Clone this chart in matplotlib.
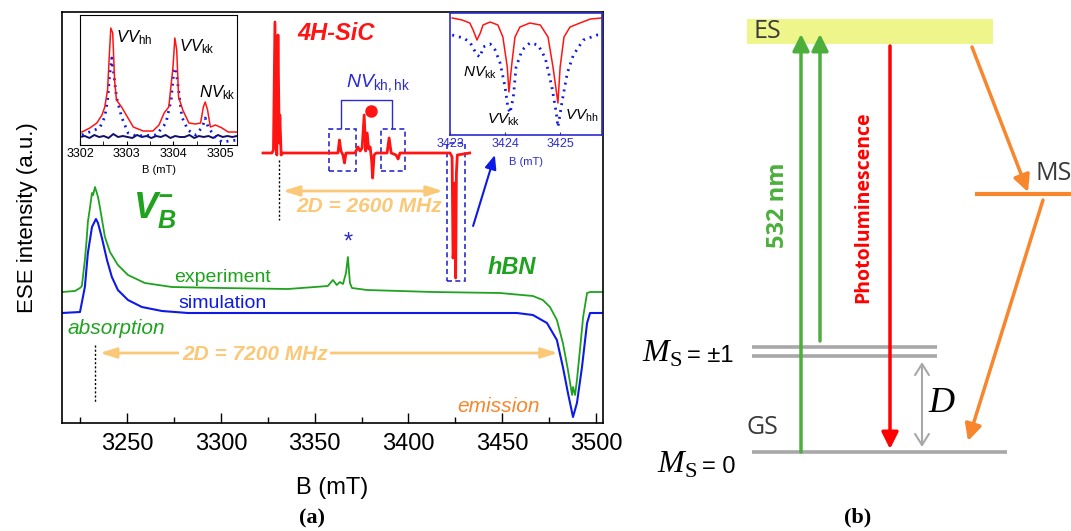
import numpy as np
import matplotlib.pyplot as plt
from matplotlib.ticker import MultipleLocator
from matplotlib.patches import Rectangle

plt.rcParams['font.family'] = ['Liberation Sans', 'DejaVu Sans']
plt.rcParams['mathtext.fontset'] = 'custom'
plt.rcParams['mathtext.rm'] = 'Liberation Sans'
plt.rcParams['mathtext.it'] = 'Liberation Sans:italic'
plt.rcParams['mathtext.bf'] = 'Liberation Sans:italic:bold'
plt.rcParams['mathtext.cal'] = 'Liberation Serif:italic'
plt.rcParams['mathtext.tt'] = 'Liberation Serif'

# -----------------------------------------------------------------
# data (B in mT, intensity in arbitrary units)
# -----------------------------------------------------------------

# hBN, experiment
b_exp = [3215.2, 3222.1, 3224.8, 3225.8, 3227.4, 3228.2, 3229.0, 3230.1, 3231.2,
         3231.8, 3232.8, 3233.8, 3234.4, 3235.4, 3238.1, 3240.8, 3245.0, 3250.4,
         3259.4, 3273.8, 3300.5, 3335.7, 3350.1, 3357.0, 3359.7, 3361.8, 3363.4,
         3365.1, 3366.7, 3367.7, 3368.8, 3369.9, 3377.9, 3413.1, 3448.8, 3466.4,
         3471.7, 3475.5, 3479.2, 3482.4, 3485.1, 3487.3, 3487.8, 3488.9, 3489.9,
         3491.5, 3493.2, 3495.3, 3496.9, 3503.8]
i_exp = [131, 132, 135, 137, 163, 180, 201, 215, 230,
         228, 236, 230, 226, 216, 186, 171, 158, 148,
         140, 136, 135, 134, 136, 137, 143, 138, 141,
         139, 150, 166, 140, 135, 133, 131, 130, 127,
         123, 116, 103, 80, 53, 28, 36, 28, 43,
         73, 106, 130, 131, 131]

# hBN, simulation
b_sim = [3215.2, 3224.8, 3227.4, 3229.0, 3231.2, 3233.3, 3234.4, 3236.5, 3239.2,
         3241.8, 3245.0, 3250.4, 3257.8, 3268.5, 3282.4, 3457.9, 3466.4, 3473.9,
         3479.2, 3482.4, 3485.1, 3487.8, 3489.9, 3492.6, 3495.3, 3496.9, 3503.8]
i_sim = [110, 111, 136, 170, 196, 204, 200, 185, 163,
         146, 133, 123, 116, 112, 110, 110, 108, 100,
         83, 56, 30, 6, 20, 56, 100, 110, 110]

# 4H-SiC spectrum (drawn on the B axis of the main panel)
b_sic = [3322.4, 3327.2, 3328.0, 3328.8, 3329.5, 3329.8, 3330.4, 3331.1, 3331.4,
         3332.1, 3333.0, 3362.4, 3363.2, 3364.0, 3365.1, 3365.9, 3366.7, 3371.5,
         3373.1, 3374.2, 3375.3, 3376.4, 3377.2, 3378.0, 3378.8, 3379.6, 3380.4,
         3380.9, 3381.7, 3382.8, 3388.6, 3389.7, 3390.8, 3393.4, 3394.5, 3395.5,
         3422.2, 3423.3, 3423.8, 3424.3, 3424.8, 3425.2, 3425.6, 3426.1, 3432.7]
i_sic = [270, 270, 273, 401, 275, 268, 388, 280, 308,
         268, 270, 270, 283, 272, 268, 260, 270, 270,
         276, 272, 275, 308, 272, 290, 274, 276, 262,
         245, 268, 270, 270, 285, 270, 268, 264, 270,
         270, 266, 165, 175, 240, 145, 250, 268, 270]

# left inset (3302 - 3305 mT)
b_in1_exp = [3302.04, 3302.21, 3302.36, 3302.47, 3302.53, 3302.59, 3302.63, 3302.66,
             3302.70, 3302.74, 3302.78, 3302.89, 3302.99, 3303.14, 3303.35, 3303.56,
             3303.69, 3303.80, 3303.90, 3303.99, 3304.03, 3304.07, 3304.11, 3304.20,
             3304.33, 3304.47, 3304.58, 3304.64, 3304.68, 3304.73, 3304.79, 3304.90,
             3305.04, 3305.17, 3305.36]
i_in1_exp = [13, 17, 22, 30, 38, 55, 92, 117,
             112, 65, 45, 38, 30, 18, 14, 14,
             20, 32, 38, 78, 107, 95, 48, 35,
             22, 21, 22, 38, 43, 35, 18, 20,
             17, 13, 13]
b_in1_sim = [3302.04, 3302.42, 3302.53, 3302.59, 3302.63, 3302.68, 3302.72, 3302.78,
             3302.89, 3303.03, 3303.20, 3303.63, 3303.84, 3303.95, 3304.01, 3304.05,
             3304.11, 3304.18, 3304.31, 3304.47, 3304.62, 3304.68, 3304.75, 3304.90,
             3305.04, 3305.36]
i_in1_sim = [10, 17, 28, 45, 68, 87, 72, 48,
             28, 12, 9, 10, 22, 45, 75, 77,
             55, 28, 15, 10, 18, 27, 17, 8,
             3, 5]
b_in1_noise = np.linspace(3302.0, 3305.36, 34)
i_in1_noise = [8, 9, 7, 10, 8, 9, 7, 11, 8, 9, 8, 7, 10, 8, 9, 7, 9,
               8, 10, 7, 9, 8, 8, 10, 7, 9, 8, 9, 7, 10, 8, 9, 8, 9]

# right inset (3423 - 3425 mT)
b_in2_exp = [3423.04, 3423.22, 3423.36, 3423.42, 3423.49, 3423.55, 3423.60, 3423.73,
             3423.87, 3423.96, 3424.04, 3424.07, 3424.13, 3424.18, 3424.27, 3424.45,
             3424.64, 3424.78, 3424.87, 3424.96, 3425.00, 3425.07, 3425.18, 3425.36,
             3425.55, 3425.76]
i_in2_exp = [117, 115, 112, 105, 95, 102, 110, 113,
             110, 98, 68, 43, 75, 98, 108, 112,
             110, 98, 68, 32, 68, 98, 108, 112,
             116, 117]
b_in2_sim = [3423.04, 3423.24, 3423.36, 3423.42, 3423.49, 3423.55, 3423.60, 3423.73,
             3423.82, 3423.91, 3424.00, 3424.05, 3424.09, 3424.15, 3424.20, 3424.31,
             3424.45, 3424.60, 3424.73, 3424.85, 3424.93, 3424.96, 3425.04, 3425.13,
             3425.24, 3425.42, 3425.67, 3425.76]
i_in2_sim = [100, 97, 93, 87, 80, 78, 88, 91,
             85, 72, 48, 28, 22, 38, 68, 85,
             92, 90, 77, 48, 22, 8, 35, 62,
             80, 95, 100, 100]

# energy-level scheme (b)
es_band = (747, 993, 19, 44)
ms1_levels = [347, 356]
ms0_level = 452
ms_level = 194

GREEN = '#1fa31f'
BLUE = '#0d1ae6'
RED = '#ff1414'
LORANGE = '#fbc877'
ORANGE = '#f7862c'
NAVY = '#2b2bd0'

fig = plt.figure(figsize=(10.71, 5.31), dpi=100)

# -----------------------------------------------------------------
# (a) main panel
# -----------------------------------------------------------------
ax = fig.add_axes([62/1071, 1 - 423/531, 541/1071, 411/531])
ax.plot(b_exp, i_exp, color=GREEN, lw=1.3)
ax.plot(b_sim, i_sim, color=BLUE, lw=1.5)
ax.plot(b_sic, i_sic, color=RED, lw=2.0)
ax.set_xlim(3215.2, 3503.8)
ax.set_ylim(0, 411)
ax.set_yticks([])
ax.xaxis.set_major_locator(MultipleLocator(50))
ax.xaxis.set_minor_locator(MultipleLocator(25))
ax.tick_params(axis='x', which='both', direction='in', labelsize=17, pad=7)
ax.tick_params(axis='x', which='major', length=7, width=1)
ax.tick_params(axis='x', which='minor', length=4, width=1)
for sp in ax.spines.values():
    sp.set_linewidth(1.2)
ax.set_xlabel('B (mT)', fontsize=17, labelpad=16)
ax.set_ylabel('ESE intensity (a.u.)', fontsize=16, labelpad=17)

# SiC annotations
ax.text(3361.4, 390, '4H-SiC', color=RED, fontsize=17, fontweight='bold',
        fontstyle='italic', ha='center', va='center')
ax.text(3383.6, 340, r'$NV_{\mathrm{kh,hk}}$', color=NAVY, fontsize=14,
        ha='center', va='center')
ax.plot([3363.8, 3363.8, 3391.5, 3391.5], [295, 323, 323, 295], color=NAVY, lw=1)
for x0, y0, w, h in [(3357.5, 252, 14.4, 42), (3385.3, 252, 12.8, 42),
                     (3420.5, 142, 9.6, 138)]:
    ax.add_patch(Rectangle((x0, y0), w, h, fill=False, edgecolor=NAVY,
                           lw=1.2, ls=(0, (3, 2))))
ax.plot(3380.0, 312, 'o', color=RED, ms=8)
ax.plot([3331, 3331], [263, 203], ls=(0, (1.5, 1.5)), color='k', lw=1)
ax.plot([3232.8, 3232.8], [78, 20], ls=(0, (1.5, 1.5)), color='k', lw=1)
arrow_kw = dict(arrowstyle='<|-|>,head_length=0.7,head_width=0.22',
                color=LORANGE, lw=2, mutation_scale=14, shrinkA=0, shrinkB=0)
ax.annotate('', xy=(3333, 232), xytext=(3418.4, 232), arrowprops=arrow_kw)
ax.text(3379, 216, '2D = 2600 MHz', color=LORANGE, fontsize=15,
        fontweight='bold', fontstyle='italic', ha='center', va='center')
ax.annotate('', xy=(3235.4, 70), xytext=(3479.7, 70), arrowprops=arrow_kw)
ax.text(3318.0, 68, '2D = 7200 MHz', color=LORANGE, fontsize=15,
        fontweight='bold', fontstyle='italic', ha='center', va='center',
        bbox=dict(facecolor='white', edgecolor='none', pad=2))
ax.annotate('', xy=(3446.1, 268), xytext=(3434.5, 197),
            arrowprops=dict(arrowstyle='-|>,head_length=0.6,head_width=0.25',
                            color=BLUE, lw=1.5, mutation_scale=14,
                            shrinkA=0, shrinkB=0))

# hBN annotations
ax.text(3264.8, 213, r'$\mathbf{V}_{\mathbf{B}}^{\mathbf{-}}$', color=GREEN,
        fontsize=26, ha='center', va='center')
ax.text(3455.2, 155, 'hBN', color=GREEN, fontsize=17, fontweight='bold',
        fontstyle='italic', ha='center', va='center')
ax.text(3300.6, 146, 'experiment', color=GREEN, fontsize=14, ha='center', va='center')
ax.text(3301.1, 119, 'simulation', color=BLUE, fontsize=14, ha='center', va='center')
ax.text(3244.0, 95, 'absorption', color=GREEN, fontsize=15, fontstyle='italic',
        ha='center', va='center')
ax.text(3447.9, 17, 'emission', color=ORANGE, fontsize=15, fontstyle='italic',
        ha='center', va='center')
ax.text(3367.7, 180, '*', color=NAVY, fontsize=17, ha='center', va='center')

# left inset
ax1 = fig.add_axes([80/1071, 1 - 145/531, 157/1071, 130/531])
ax1.plot(b_in1_noise, i_in1_noise, color='#10106a', lw=1.4)
ax1.plot(b_in1_sim, i_in1_sim, color=BLUE, lw=2, ls=(0, (0.7, 1.8)))
ax1.plot(b_in1_exp, i_in1_exp, color=RED, lw=1.1)
ax1.set_xlim(3302.0, 3305.36)
ax1.set_ylim(0, 130)
ax1.set_yticks([])
ax1.set_xticks([3302, 3303, 3304, 3305])
ax1.xaxis.set_minor_locator(MultipleLocator(0.5))
ax1.tick_params(axis='x', which='both', direction='in', labelsize=9, pad=2, length=3)
ax1.set_xlabel('B (mT)', fontsize=8, labelpad=4)
ax1.text(3302.78, 107, r'$VV_{\mathrm{hh}}$', fontsize=12, va='center')
ax1.text(3304.11, 98, r'$VV_{\mathrm{kk}}$', fontsize=12, va='center')
ax1.text(3304.54, 52, r'$NV_{\mathrm{kk}}$', fontsize=12, va='center')

# right inset
ax2 = fig.add_axes([450/1071, 1 - 135/531, 152/1071, 122/531])
ax2.plot(b_in2_sim, i_in2_sim, color=BLUE, lw=2, ls=(0, (0.7, 1.8)))
ax2.plot(b_in2_exp, i_in2_exp, color=RED, lw=1.1)
ax2.set_xlim(3423.0, 3425.76)
ax2.set_ylim(0, 122)
ax2.set_yticks([])
ax2.set_xticks([3423, 3424, 3425])
ax2.tick_params(axis='x', direction='in', labelsize=9, pad=2, length=2,
                colors=NAVY)
for sp in ax2.spines.values():
    sp.set_color(NAVY)
    sp.set_linewidth(1.2)
ax2.set_xlabel('B (mT)', fontsize=8, labelpad=5, color=NAVY)
ax2.text(3423.24, 62, r'$NV_{\mathrm{kk}}$', fontsize=11, va='center')
ax2.text(3423.67, 15, r'$VV_{\mathrm{kk}}$', fontsize=11, va='center')
ax2.text(3425.09, 19, r'$VV_{\mathrm{hh}}$', fontsize=11, va='center')

fig.text(312/1071, 1 - 518/531, '(a)', family='Liberation Serif', fontsize=16,
         fontweight='bold', ha='center', va='center')

# -----------------------------------------------------------------
# (b) level scheme
# -----------------------------------------------------------------
axb = fig.add_axes([620/1071, 0, 451/1071, 1])
axb.set_xlim(620, 1071)
axb.set_ylim(531, 0)
axb.axis('off')

GRAY = '#a8a8a8'
x0, x1, y0, y1 = es_band
axb.add_patch(Rectangle((x0, y0), x1 - x0, y1 - y0, color='#eef58a', lw=0))
for y in ms1_levels:
    axb.plot([752, 937], [y, y], color=GRAY, lw=2.6, solid_capstyle='butt')
axb.plot([752, 1007], [ms0_level, ms0_level], color=GRAY, lw=2.6,
         solid_capstyle='butt')
axb.plot([975, 1071], [ms_level, ms_level], color=ORANGE, lw=3,
         solid_capstyle='butt')

def arrow(p0, p1, color, lw=2.5, style='-|>,head_length=0.5,head_width=0.25'):
    axb.annotate('', xy=p1, xytext=p0,
                 arrowprops=dict(arrowstyle=style, color=color, lw=lw,
                                 mutation_scale=20, shrinkA=0, shrinkB=0))

PGREEN = '#4caf3c'
arrow((801, 452), (801, 34), PGREEN)
arrow((820, 341), (820, 34), PGREEN)
arrow((890, 46), (890, 449), '#ff0000')
arrow((972, 47), (1028, 192), ORANGE)
arrow((1043, 200), (968, 441), ORANGE)
arrow((922, 447), (922, 362), GRAY, lw=1.5,
      style='<->,head_length=0.4,head_width=0.25')

axb.text(767, 32, 'ES', family='Open Sans', fontsize=18, color='#3a3a3a',
         ha='center', va='center')
axb.text(762, 428, 'GS', family='Open Sans', fontsize=18, color='#3a3a3a',
         ha='center', va='center')
axb.text(1036, 173, 'MS', family='Open Sans', fontsize=18, color='#3a3a3a',
         ha='left', va='center')
axb.text(778, 205, '532 nm', family='Open Sans', fontsize=17, fontweight='bold',
         color=PGREEN, rotation=90, ha='center', va='center')
axb.text(863, 207, 'Photoluminescence', family='Open Sans', fontsize=14,
         fontweight='bold', color='#ff0000', rotation=90, ha='center', va='center')
axb.text(942, 403, r'$\mathcal{D}$', fontsize=26, ha='center', va='center')
axb.text(682, 362, r'$\mathcal{M}_{\mathtt{S}}$', fontsize=23, ha='right',
         va='baseline')
axb.text(687, 362, '= ±1', fontsize=17, ha='left', va='baseline')
axb.text(697, 473, r'$\mathcal{M}_{\mathtt{S}}$', fontsize=23, ha='right',
         va='baseline')
axb.text(702, 473, '= 0', fontsize=17, ha='left', va='baseline')
axb.text(858, 517, '(b)', family='Liberation Serif', fontsize=16,
         fontweight='bold', ha='center', va='center')

fig.savefig('out.png', dpi=100)
